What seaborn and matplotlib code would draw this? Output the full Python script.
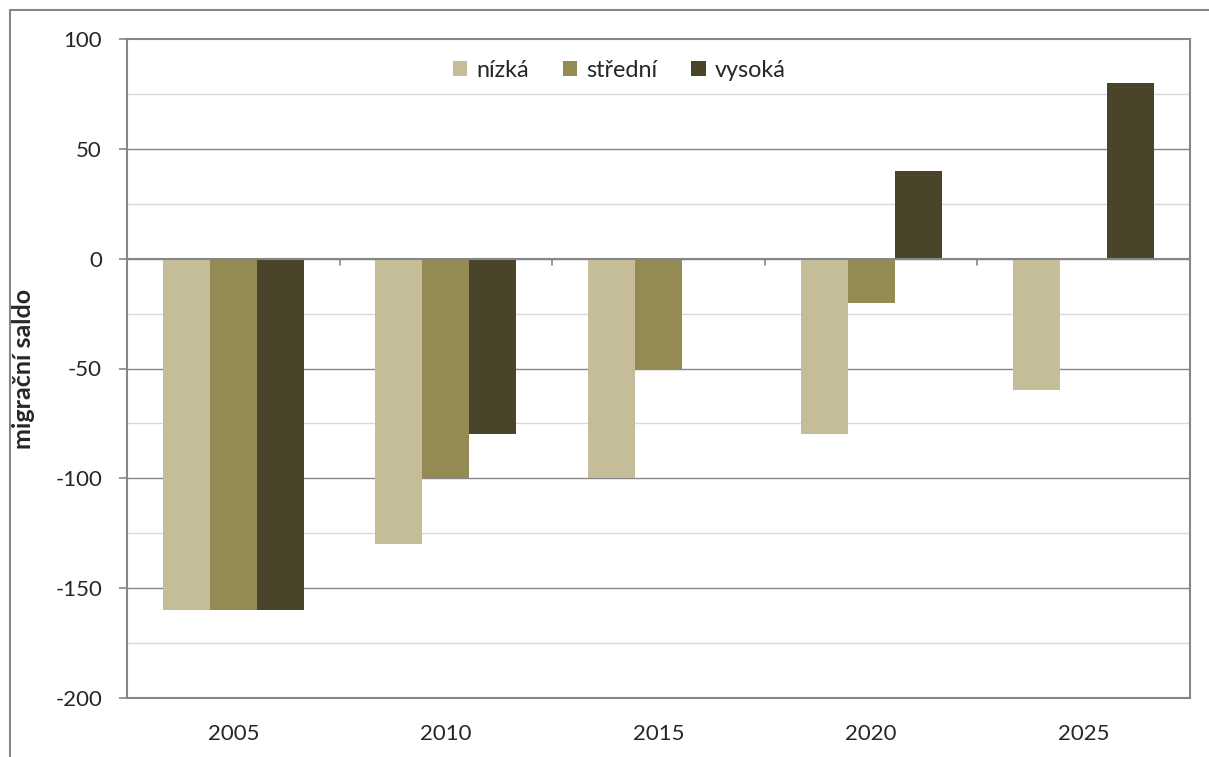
import matplotlib
matplotlib.use("Agg")
import matplotlib.pyplot as plt
import seaborn as sns
import pandas as pd
import numpy as np
from matplotlib.lines import Line2D

years = ["2005", "2010", "2015", "2020", "2025"]
series = ["nízká", "střední", "vysoká"]
nizka = [-160, -130, -100, -80, -60]
stredni = [-160, -100, -50, -20, 0]
vysoka = [-160, -80, 0, 40, 80]
colors = ["#C4BD97", "#948A54", "#4A452A"]
y_ticks = [100, 50, 0, -50, -100, -150, -200]

df = pd.DataFrame({
    "rok": years * 3,
    "varianta": [s for s in series for _ in years],
    "saldo": nizka + stredni + vysoka,
})

sns.set_style("white")
plt.rcParams["font.family"] = ["Lato", "DejaVu Sans"]

fig = plt.figure(figsize=(12.09, 7.57), dpi=100)
ax = fig.add_axes([127/1209, 1-698/757, (1190-127)/1209, (698-39)/757])

# gridlines
for v in np.arange(-200, 101, 25):
    if v % 50 == 0:
        if v in (-200, 100):
            continue
        ax.axhline(v, color="#868686", lw=1.0, zorder=0)
    else:
        ax.axhline(v, color="#D9D9D9", lw=1.0, zorder=0)

sns.barplot(data=df, x="rok", y="saldo", hue="varianta", order=years,
            hue_order=series, palette=colors, width=0.664, gap=0,
            saturation=1, ax=ax, zorder=2, legend=True, linewidth=0)

ax.set_xlim(-0.5, len(years) - 0.5)
ax.set_ylim(-200, 100)
ax.set_yticks(y_ticks)
ax.set_yticklabels([str(t) for t in y_ticks])
ax.tick_params(axis="y", length=6, width=1.2, color="#868686", pad=12, labelsize=16, left=True)
ax.tick_params(axis="x", length=0, pad=19, labelsize=16)
ax.set_xlabel("")
ax.set_ylabel("migrační saldo", fontsize=18, fontweight="bold")
ax.yaxis.set_label_coords(-0.087, 0.5)

# zero line with category-boundary ticks
ax.axhline(0, color="#868686", lw=1.5, zorder=3)
for b in np.arange(0.5, len(years) - 1, 1.0):
    ax.plot([b, b], [0, -3], color="#868686", lw=1.2, zorder=3, clip_on=False)

for s in ax.spines.values():
    s.set_visible(True)
    s.set_color("#868686")
    s.set_linewidth(1.5)

handles, labels = ax.get_legend_handles_labels()
ax.legend(handles, labels, loc="center", bbox_to_anchor=(0.463, 0.952),
          ncol=3, frameon=False, fontsize=16.8, handlelength=0.62, handleheight=0.62,
          handletextpad=0.38, columnspacing=1.45)

# outer chart frame (partially cropped)
fig.add_artist(Line2D([9.5/1209, 1.0], [1-9.5/757, 1-9.5/757], transform=fig.transFigure,
                      color="#868686", lw=1.5))
fig.add_artist(Line2D([9.5/1209, 9.5/1209], [0, 1-9.5/757], transform=fig.transFigure,
                      color="#868686", lw=1.5))

fig.savefig("out.png", dpi=100)
